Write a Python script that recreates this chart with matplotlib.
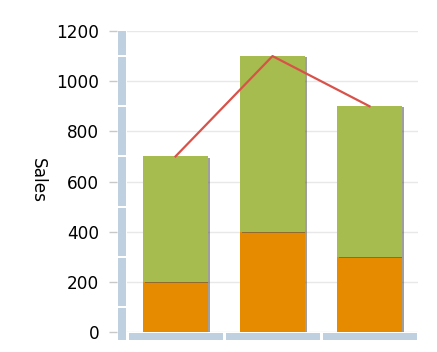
import matplotlib
matplotlib.use("Agg")
import matplotlib.pyplot as plt
import matplotlib.patheffects as pe
from matplotlib.patches import Rectangle
import numpy as np

categories = ["A", "B", "C"]
orange_vals = [200, 400, 300]
green_vals = [500, 700, 600]
totals = [o + g for o, g in zip(orange_vals, green_vals)]
y_ticks = [0, 200, 400, 600, 800, 1000, 1200]
y_bar_breaks = [1100, 900, 700, 500, 300, 100]

ORANGE = "#e68a00"
GREEN = "#a6bc4f"
RED = "#d9524a"
AXIS_BLUE = "#bfd0e1"

fig = plt.figure(figsize=(4.37, 3.52), dpi=100)
ax = fig.add_axes([127 / 437, 1 - 332 / 352, 291 / 437, 301 / 352])

x = np.arange(len(categories))
shadow = [pe.SimplePatchShadow(offset=(1.5, -0.8), shadow_rgbFace="#505050", alpha=0.55), pe.Normal()]
b1 = ax.bar(x, orange_vals, width=0.67, color=ORANGE, zorder=2)
b2 = ax.bar(x, green_vals, bottom=orange_vals, width=0.67, color=GREEN, zorder=2)
for r in list(b1) + list(b2):
    r.set_path_effects(shadow)
ax.plot(x, totals, color=RED, lw=1.6, zorder=3)

ax.set_xlim(-0.5, len(categories) - 0.5)
ax.set_ylim(0, 1200)
ax.set_yticks(y_ticks)
ax.set_xticks([])
for s in ax.spines.values():
    s.set_visible(False)
ax.spines["left"].set_position(("outward", 7.2))
ax.tick_params(axis="y", length=5.8, width=1, color="#c8c8c8", pad=7, labelsize=12.2)
ax.yaxis.grid(True, color="#e8e8e8", lw=1)
ax.set_axisbelow(True)
fig.text(38 / 437, 1 - 180 / 352, "Sales", rotation=270, fontsize=12.2, ha="center", va="center")

# y axis bar, broken at the odd hundreds
px_y = 1200 / 301.0
edges = [1200] + y_bar_breaks + [-8 * px_y]
tr = ax.get_yaxis_transform()
for top, bot in zip(edges[:-1], edges[1:]):
    t = top - (0 if top == 1200 else 1 * px_y)
    b = bot + (0 if bot == edges[-1] else 1 * px_y)
    ax.add_patch(Rectangle((-9 / 291, b), 8 / 291, t - b, transform=tr,
                           color=AXIS_BLUE, clip_on=False, lw=0))

# x axis bar, one piece per category
trx = ax.get_xaxis_transform()
gap = 1.5 / 97
for i in x:
    ax.add_patch(Rectangle((i - 0.5 + gap, -8 / 301), 1 - 2 * gap, 7 / 301, transform=trx,
                           color=AXIS_BLUE, clip_on=False, lw=0))

fig.savefig("out.png", dpi=100)
